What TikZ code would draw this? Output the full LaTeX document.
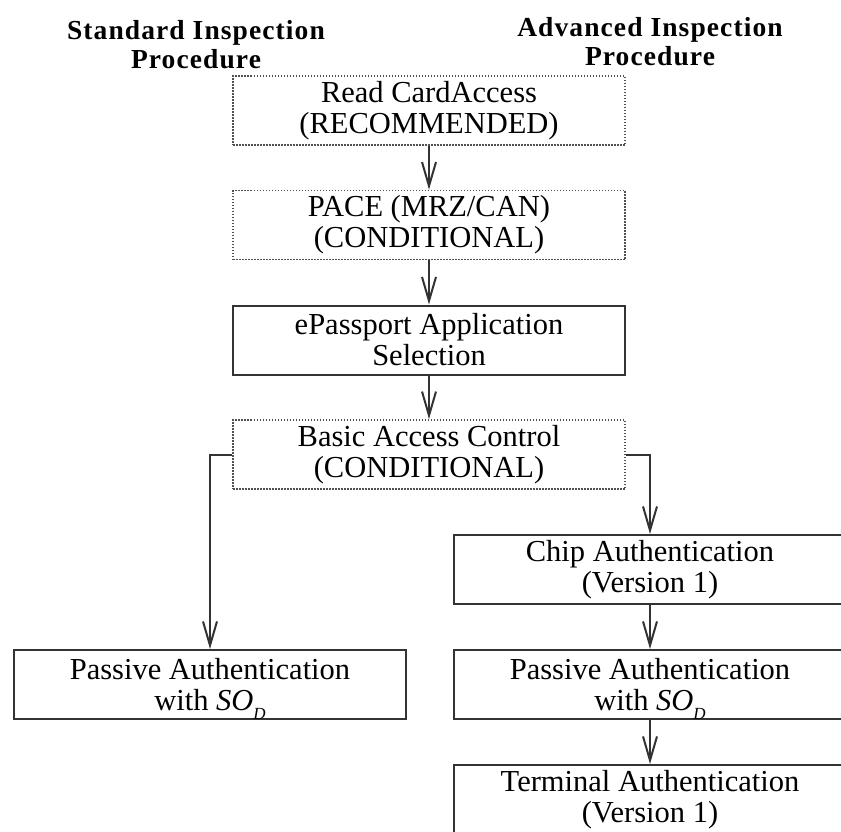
\documentclass[tikz,border=0pt]{standalone}
\usepackage{fontspec}
\setmainfont{Liberation Serif}
\newfontfamily\titlefont[LetterSpace=4]{Liberation Serif}
\usetikzlibrary{arrows.meta}
\definecolor{ln}{HTML}{333333}
\definecolor{dotln}{HTML}{505050}
\newcommand\boxfont{\fontsize{30.5}{31}\selectfont}
\newcommand\sodtext{\textit{SO}\raisebox{-9pt}[0pt][0pt]{\fontsize{17}{17}\selectfont\itshape D}}
\begin{document}
\begin{tikzpicture}[x=1pt,y=-1pt,
  box/.style={draw=ln, line width=2pt, minimum width=392pt, minimum height=69pt,
    inner sep=0pt, align=center, font=\boxfont, text=black},
  dotbox/.style={box, draw=dotln, line width=1.8pt, dash pattern=on 1.5pt off 1.5pt},
  conn/.style={draw=ln, line width=2pt, -{Straight Barb[length=24pt,width=14pt,line width=2pt]}},
  titlestyle/.style={align=center, inner sep=0pt, font=\titlefont\bfseries\fontsize{27.5}{29}\selectfont}]
\useasboundingbox (0,0) rectangle (841,831);
\fill[white] (0,0) rectangle (841,831);
\node[titlestyle] (tstd) at (196,45) {Standard Inspection\\Procedure};
\node[titlestyle] (tadv) at (650,42) {Advanced Inspection\\Procedure};
\node[dotbox] (rca) at (429,110.5) {Read CardAccess\\(RECOMMENDED)};
\node[dotbox] (pace) at (429,225) {PACE (MRZ/CAN)\\(CONDITIONAL)};
\node[box] (sel) at (429,340) {ePassport Application\\Selection};
\node[dotbox] (bac) at (429,454.5) {Basic Access Control\\(CONDITIONAL)};
\node[box] (chip) at (650,569.5) {Chip Authentication\\(Version 1)};
\node[box] (pal) at (210,684.5) {Passive Authentication\\with \sodtext};
\node[box] (par) at (650,684.5) {Passive Authentication\\with \sodtext};
\node[box] (ta) at (650,799.5) {Terminal Authentication\\(Version 1)};
\draw[conn] (rca) -- (pace);
\draw[conn] (pace) -- (sel);
\draw[conn] (sel) -- (bac);
\draw[conn] (bac.west) -| (pal.north);
\draw[conn] (bac.east) -| (chip.north);
\draw[conn] (chip) -- (par);
\draw[conn] (par) -- (ta);
\end{tikzpicture}
\end{document}
